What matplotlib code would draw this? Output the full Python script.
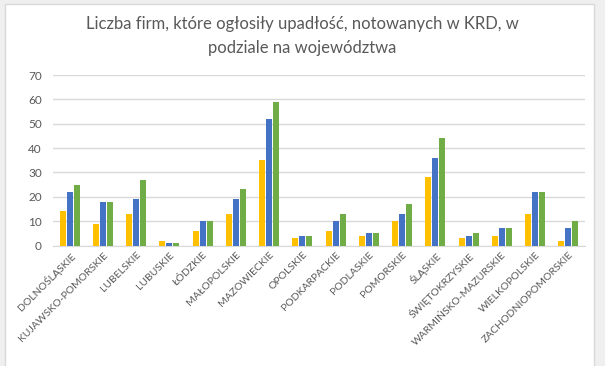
import numpy as np
import matplotlib.pyplot as plt
from matplotlib.patches import Rectangle

plt.rcParams['font.family'] = ['Lato', 'DejaVu Sans']

wojewodztwa = ['DOLNOŚLĄSKIE', 'KUJAWSKO-POMORSKIE', 'LUBELSKIE', 'LUBUSKIE',
               'ŁÓDZKIE', 'MAŁOPOLSKIE', 'MAZOWIECKIE', 'OPOLSKIE',
               'PODKARPACKIE', 'PODLASKIE', 'POMORSKIE', 'ŚLĄSKIE',
               'ŚWIĘTOKRZYSKIE', 'WARMIŃSKO-MAZURSKIE', 'WIELKOPOLSKIE',
               'ZACHODNIOPOMORSKIE']
seria1 = [14, 9, 13, 2, 6, 13, 35, 3, 6, 4, 10, 28, 3, 4, 13, 2]
seria2 = [22, 18, 19, 1, 10, 19, 52, 4, 10, 5, 13, 36, 4, 7, 22, 7]
seria3 = [25, 18, 27, 1, 10, 23, 59, 4, 13, 5, 17, 44, 5, 7, 22, 10]

kolory = ['#FFC000', '#4472C4', '#70AD47']
szary = '#595959'

fig = plt.figure(figsize=(6.05, 3.66), dpi=100, facecolor='#EFEFEF')
# białe tło wykresu z cienką ramką
fig.patches.append(Rectangle((5 / 605, -0.01), 589 / 605, 1 - 4 / 366 + 0.01,
                             transform=fig.transFigure, facecolor='white',
                             edgecolor='#D9D9D9', linewidth=1, zorder=-5))

ax = fig.add_axes([53 / 605, 1 - 245.5 / 366, 532 / 605, 170.5 / 366])
ax.set_facecolor('none')

x = np.arange(len(wojewodztwa))
w = 0.18
for i, (dane, kolor) in enumerate(zip([seria1, seria2, seria3], kolory)):
    ax.bar(x + (i - 1) * (w + 0.03), dane, width=w, color=kolor, zorder=3)

ax.set_xlim(-0.5, len(wojewodztwa) - 0.5)
ax.set_ylim(0, 70)
ax.set_yticks(range(0, 71, 10))
ax.grid(axis='y', color='#D9D9D9', linewidth=1, zorder=0)
for s in ['top', 'right', 'left']:
    ax.spines[s].set_visible(False)
ax.spines['bottom'].set_color('#D9D9D9')
ax.tick_params(axis='both', length=0, colors=szary)
ax.tick_params(axis='y', pad=8, labelsize=8.5)
ax.set_xticks(x)
ax.set_xticklabels(wojewodztwa, rotation=45, ha='right', rotation_mode='anchor',
                   fontsize=7.5)

fig.text(0.5, 1 - 24 / 366, 'Liczba firm, które ogłosiły upadłość, notowanych w KRD, w',
         ha='center', va='center', fontsize=12, color=szary)
fig.text(0.5, 1 - 48 / 366, 'podziale na województwa',
         ha='center', va='center', fontsize=12, color=szary)

fig.savefig('out.png', dpi=100, facecolor=fig.get_facecolor())
